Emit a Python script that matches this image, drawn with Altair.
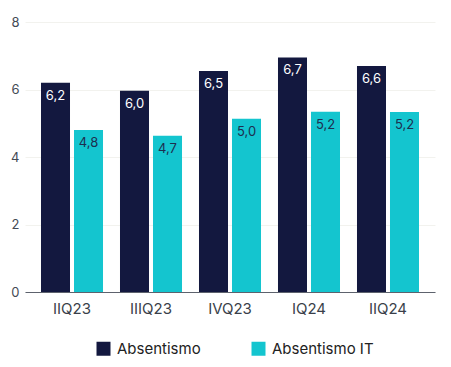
import altair as alt
import pandas as pd

categories = ["IIQ23", "IIIQ23", "IVQ23", "IQ24", "IIQ24"]
series = ["Absentismo", "Absentismo IT"]
absentismo = [6.2, 5.96, 6.55, 6.95, 6.7]
absentismo_it = [4.8, 4.63, 5.13, 5.34, 5.33]
labels_abs = ["6,2", "6,0", "6,5", "6,7", "6,6"]
labels_it = ["4,8", "4,7", "5,0", "5,2", "5,2"]

rows = []
for c, v, l in zip(categories, absentismo, labels_abs):
    rows.append({"cat": c, "serie": series[0], "value": v, "label": l})
for c, v, l in zip(categories, absentismo_it, labels_it):
    rows.append({"cat": c, "serie": series[1], "value": v, "label": l})
df = pd.DataFrame(rows)

FONT = "Inter"
NAVY = "#13183f"
TEAL = "#14c5cf"

x = alt.X("cat:N", sort=categories, title=None,
          scale=alt.Scale(paddingInner=0.215, paddingOuter=0.2025),
          axis=alt.Axis(labelAngle=0, labelFontSize=15, labelColor="#3a3f4a",
                        labelFont=FONT, labelPadding=9, ticks=False,
                        domainColor="#5d626d", domainWidth=1.2, grid=False))
xo = alt.XOffset("serie:N", sort=series, scale=alt.Scale(paddingInner=0.121))
y = alt.Y("value:Q", title=None,
          scale=alt.Scale(domain=[0, 8]),
          axis=alt.Axis(values=[0, 2, 4, 6, 8], labelFontSize=13, labelColor="#444a55",
                        labelFont=FONT, labelPadding=6, ticks=False, domain=False,
                        gridColor="#f2f2ee", gridWidth=1))

bars = alt.Chart(df).mark_bar().encode(
    x=x, xOffset=xo, y=y,
    color=alt.Color("serie:N", sort=series,
                    scale=alt.Scale(domain=series, range=[NAVY, TEAL]),
                    legend=alt.Legend(title=None, orient="none", legendX=71, legendY=319,
                                      direction="horizontal", symbolType="square",
                                      symbolSize=196, symbolStrokeWidth=0,
                                      labelFontSize=15, labelFont=FONT, labelColor="#222",
                                      labelOffset=6, columnPadding=50)),
)

text = alt.Chart(df).mark_text(baseline="middle", dy=13, fontSize=13, font=FONT).encode(
    x=alt.X("cat:N", sort=categories), xOffset=xo, y="value:Q",
    text="label:N",
    color=alt.Color("serie:N", sort=series,
                    scale=alt.Scale(domain=series, range=["#ffffff", "#1d2f4f"]),
                    legend=None),
)

chart = alt.layer(bars, text).resolve_scale(color="independent").properties(
    width=410, height=270,
    autosize=alt.AutoSizeParams(type="none"),
    padding={"left": 17, "top": 14, "right": 8, "bottom": 67},
).configure_view(stroke=None)

chart.save("out.html", embed_options={"renderer": "svg", "actions": False})
